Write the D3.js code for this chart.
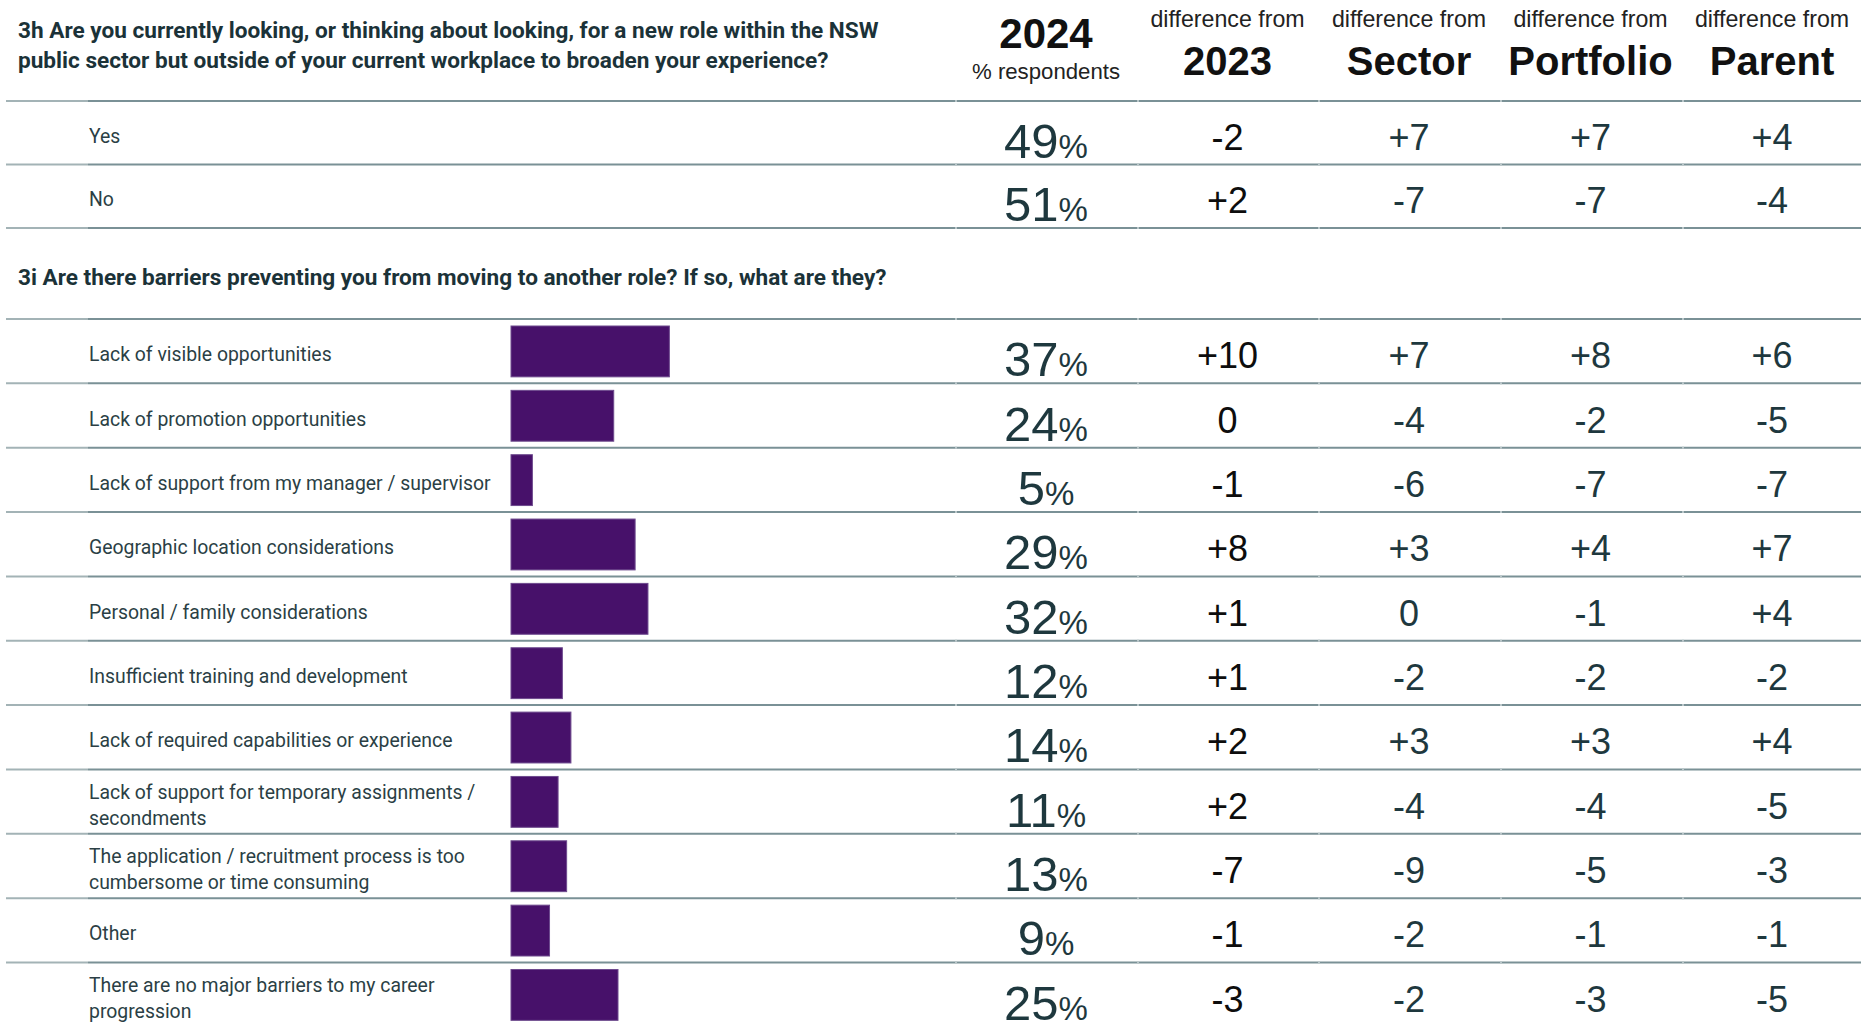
<!DOCTYPE html>
<html>
<head>
<style>
body {margin: 0; background: #fff;}
svg text {font-family: "Liberation Sans", Arial, sans-serif;}
.lab {font-family: Roboto, "Liberation Sans", sans-serif; font-size: 19.4px; fill: #2b3f45;}
.q {font-family: Roboto, "Liberation Sans", sans-serif; font-size: 22.6px; font-weight: 700; fill: #1b3238;}
</style>
<script src="https://d3js.org/d3.v7.min.js"></script>
</head>
<body>
<svg id="vis" width="1861" height="1022"></svg>
<script>
// question titles
var q3h = ["3h Are you currently looking, or thinking about looking, for a new role within the NSW",
           "public sector but outside of your current workplace to broaden your experience?"];
var q3i = "3i Are there barriers preventing you from moving to another role? If so, what are they?";

// columns
var cols = ["2024", "2023", "Sector", "Portfolio", "Parent"];

// 3h
var lookCats = ["Yes", "No"];
var lookPct = [49, 51];
var lookVs2023 = [-2, 2];
var lookVsSector = [7, -7];
var lookVsPortfolio = [7, -7];
var lookVsParent = [4, -4];

// 3i
var barrierCats = [
  "Lack of visible opportunities",
  "Lack of promotion opportunities",
  "Lack of support from my manager / supervisor",
  "Geographic location considerations",
  "Personal / family considerations",
  "Insufficient training and development",
  "Lack of required capabilities or experience",
  "Lack of support for temporary assignments /\nsecondments",
  "The application / recruitment process is too\ncumbersome or time consuming",
  "Other",
  "There are no major barriers to my career\nprogression"
];
var barrierPct = [37, 24, 5, 29, 32, 12, 14, 11, 13, 9, 25];
var barrierVs2023 = [10, 0, -1, 8, 1, 1, 2, 2, -7, -1, -3];
var barrierVsSector = [7, -4, -6, 3, 0, -2, 3, -4, -9, -2, -2];
var barrierVsPortfolio = [8, -2, -7, 4, -1, -2, 3, -4, -5, -1, -3];
var barrierVsParent = [6, -5, -7, 7, 4, -2, 4, -5, -3, -1, -5];

var svg = d3.select("#vis");
var W = 1861;
var ink = "#1e383e";
var lineCol = "#7a9196";

var colX = d3.scalePoint().domain(cols).range([1046, 1772]);
var barX = d3.scaleLinear().domain([0, 100]).range([511, 939]);

function fmt(d) { return d > 0 ? "+" + d : "" + d; }

function rule(y) {
  svg.append("line").attr("x1", 6).attr("x2", 88).attr("y1", y).attr("y2", y)
     .attr("stroke", "#a3b3b6").attr("stroke-width", 2);
  svg.append("line").attr("x1", 88).attr("x2", W).attr("y1", y).attr("y2", y)
     .attr("stroke", lineCol).attr("stroke-width", 2);
  // faint joins between columns
  [955, 1137, 1318, 1500, 1682].forEach(function(x) {
    svg.append("line").attr("x1", x).attr("x2", x + 2).attr("y1", y).attr("y2", y)
       .attr("stroke", "#b8c5c8").attr("stroke-width", 2);
  });
}

// header
svg.append("text").attr("class", "q").selectAll("tspan").data(q3h).enter().append("tspan")
   .attr("x", 18).attr("y", function(d, i) { return 38 + i * 30; }).text(function(d) { return d; });

svg.append("text").attr("x", colX("2024")).attr("y", 48).attr("text-anchor", "middle")
   .attr("font-size", 42).attr("font-weight", "bold").attr("fill", "#111").text("2024");
svg.append("text").attr("x", colX("2024")).attr("y", 79).attr("text-anchor", "middle")
   .attr("font-size", 22.2).attr("fill", "#222").text("% respondents");

svg.selectAll(".dh").data(cols.slice(1)).enter().append("text").attr("class", "dh")
   .attr("x", function(d) { return colX(d); }).attr("y", 27).attr("text-anchor", "middle")
   .attr("font-size", 23.2).attr("fill", "#222").text("difference from");
svg.selectAll(".dn").data(cols.slice(1)).enter().append("text").attr("class", "dn")
   .attr("x", function(d) { return colX(d); }).attr("y", 75).attr("text-anchor", "middle")
   .attr("font-size", 40).attr("font-weight", "bold").attr("fill", "#111").text(function(d) { return d; });

function drawBlock(cats, pct, diffs, y0, y1, bars) {
  var y = d3.scaleBand().domain(cats).range([y0, y1]);
  var h = y.bandwidth();
  rule(y0);
  cats.forEach(function(c, i) {
    var top = y(c), mid = top + h / 2;
    rule(top + h);
    var lines = c.split("\n");
    svg.append("text").attr("class", "lab").selectAll("tspan").data(lines).enter().append("tspan")
       .attr("x", 89)
       .attr("y", function(d, j) { return mid + 10 + (j - (lines.length - 1) / 2) * 26; })
       .text(function(d) { return d; });
    if (bars) {
      svg.append("rect").attr("x", barX(0)).attr("y", top + 7)
         .attr("width", barX(pct[i]) - barX(0)).attr("height", h - 13.5)
         .attr("fill", "#47116a").attr("stroke", "#6e4a8e").attr("stroke-width", 1);
    }
    var t = svg.append("text").attr("x", colX("2024")).attr("y", mid + 25)
       .attr("text-anchor", "middle").attr("fill", ink);
    t.append("tspan").attr("font-size", 49).text(pct[i]);
    t.append("tspan").attr("font-size", 33).text("%");
    diffs.forEach(function(arr, k) {
      svg.append("text").attr("x", colX(cols[k + 1])).attr("y", mid + 17)
         .attr("text-anchor", "middle").attr("font-size", 36)
         .attr("fill", k === 0 ? "#0d0d0d" : ink).text(fmt(arr[i]));
    });
  });
}

drawBlock(lookCats, lookPct, [lookVs2023, lookVsSector, lookVsPortfolio, lookVsParent], 101, 228, false);

svg.append("text").attr("class", "q").attr("x", 18).attr("y", 285).text(q3i);

drawBlock(barrierCats, barrierPct, [barrierVs2023, barrierVsSector, barrierVsPortfolio, barrierVsParent],
          319, 319 + 11 * 64.35, true);
</script>
</body>
</html>
